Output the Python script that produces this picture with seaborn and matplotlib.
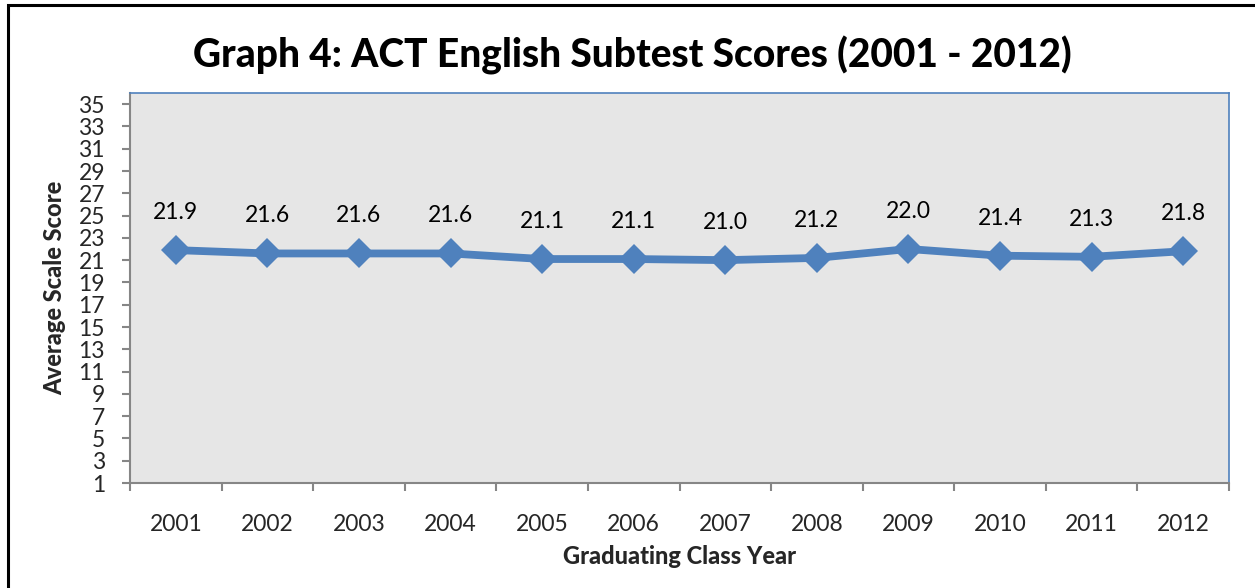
import pandas as pd
import numpy as np
import matplotlib
matplotlib.use("Agg")
import matplotlib.pyplot as plt
from matplotlib.patches import Rectangle
from matplotlib.ticker import FixedLocator
import seaborn as sns

# Data
years = ["2001", "2002", "2003", "2004", "2005", "2006",
         "2007", "2008", "2009", "2010", "2011", "2012"]
scores = [21.9, 21.6, 21.6, 21.6, 21.1, 21.1, 21.0, 21.2, 22.0, 21.4, 21.3, 21.8]
y_ticks = list(range(1, 36, 2))

df = pd.DataFrame({"Year": years, "Score": scores})

sns.set_style("white")
plt.rcParams["font.family"] = ["Lato", "DejaVu Sans"]

line_color = "#4F81BD"
axis_gray = "#868686"

fig = plt.figure(figsize=(12.55, 5.88), dpi=100)
ax = fig.add_axes([130 / 1255, 1 - 483 / 588, 1099 / 1255, 390 / 588])
ax.set_facecolor("#E6E6E6")

sns.lineplot(data=df, x="Year", y="Score", ax=ax, color=line_color,
             linewidth=5.6, marker="D", markersize=15, markeredgewidth=0,
             sort=False)

# Data labels above each point
for i, v in enumerate(df["Score"]):
    ax.annotate(f"{v:.1f}", (i, v), xytext=(0, 27), textcoords="offset points",
                ha="center", va="center", fontsize=16.5, color="black")

ax.set_xlim(-0.5, len(years) - 0.5)
ax.set_ylim(1, 36)
ax.set_yticks(y_ticks)
ax.set_yticklabels([str(t) for t in y_ticks])

# labels at category centres, tick marks at category boundaries
ax.set_xticks(range(len(years)))
ax.set_xticklabels(years)
ax.xaxis.set_minor_locator(FixedLocator(np.arange(-0.5, len(years), 1.0)))
ax.tick_params(axis="x", which="major", length=0, pad=22, labelsize=16.5)
ax.tick_params(axis="x", which="minor", length=6, width=1.5, color=axis_gray, direction="out")
ax.tick_params(axis="y", which="major", length=6, width=1.5, color=axis_gray,
               direction="out", pad=12, labelsize=16.5)
ax.tick_params(left=True, bottom=True, which="both")

for side in ["left", "bottom"]:
    ax.spines[side].set_color(axis_gray)
    ax.spines[side].set_linewidth(1.5)
for side in ["top", "right"]:
    ax.spines[side].set_color(line_color)
    ax.spines[side].set_linewidth(1.2)

ax.set_xlabel("Graduating Class Year", fontsize=17, fontweight="black")
ax.set_ylabel("Average Scale Score", fontsize=17, fontweight="black")
ax.xaxis.set_label_coords(0.5, (483 - 557) / 390)
ax.yaxis.set_label_coords((55 - 130) / 1099, 0.5)
ax.xaxis.label.set_va("center")
ax.yaxis.label.set_va("center")
ax.grid(False)

fig.text(632 / 1255, 1 - 55 / 588, "Graph 4: ACT English Subtest Scores (2001 - 2012)",
         ha="center", va="center", fontsize=28, fontweight="black", color="black")

# outer chart border (right and bottom edges run off the image)
fig.patches.append(Rectangle((8 / 1255, -0.05), 1.1, 1 - 5 / 588 + 0.05,
                             transform=fig.transFigure, fill=False,
                             edgecolor="black", linewidth=2.2))

fig.savefig("out.png", dpi=100)
